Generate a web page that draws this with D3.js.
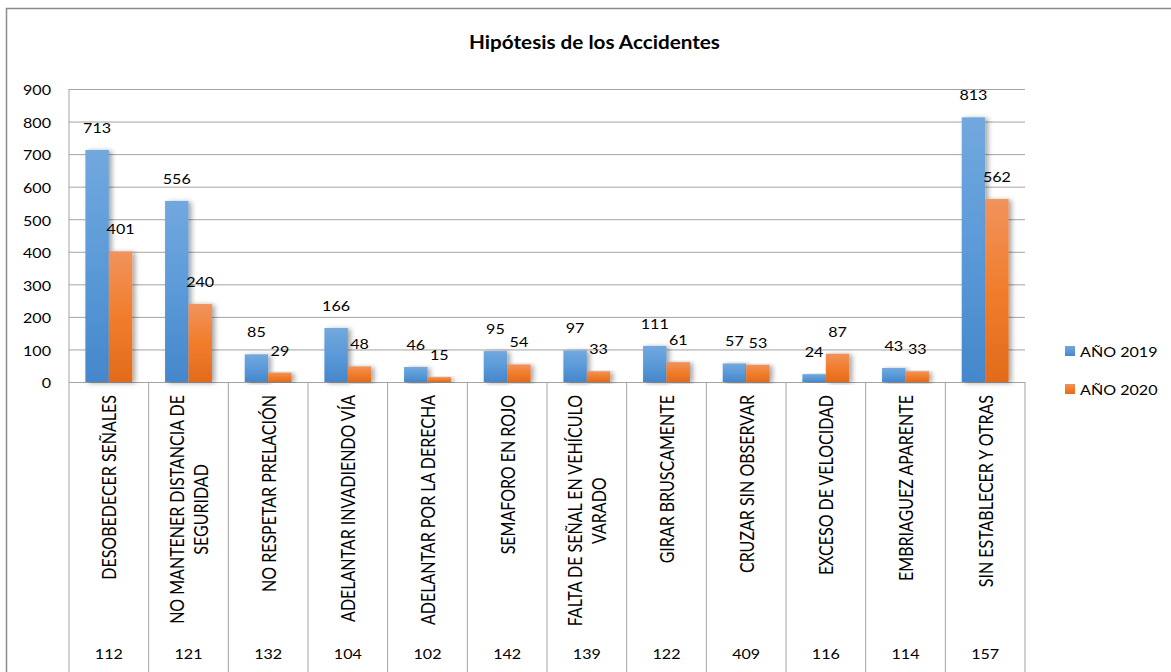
<!DOCTYPE html>
<html>
<head>
<meta charset="utf-8">
<script src="https://cdn.jsdelivr.net/npm/d3@7"></script>
<style>
  body { margin: 0; background: #fff; }
  svg text { font-family: Lato, 'Open Sans', sans-serif; fill: #000; }
</style>
</head>
<body>
<div id="chart"></div>
<script>
// data
const categories = [
  'DESOBEDECER SEÑALES',
  'NO MANTENER DISTANCIA DE\nSEGURIDAD',
  'NO RESPETAR PRELACIÓN',
  'ADELANTAR INVADIENDO VÍA',
  'ADELANTAR POR LA DERECHA',
  'SEMAFORO EN ROJO',
  'FALTA DE SEÑAL EN VEHÍCULO\nVARADO',
  'GIRAR BRUSCAMENTE',
  'CRUZAR SIN OBSERVAR',
  'EXCESO DE VELOCIDAD',
  'EMBRIAGUEZ APARENTE',
  'SIN ESTABLECER Y OTRAS'
]
const series = ['AÑO 2019', 'AÑO 2020']
const values2019 = [713, 556, 85, 166, 46, 95, 97, 111, 57, 24, 43, 813]
const values2020 = [401, 240, 29, 48, 15, 54, 33, 61, 53, 87, 33, 562]
const tableRow = [112, 121, 132, 104, 102, 142, 139, 122, 409, 116, 114, 157]
const yTicks = [0, 100, 200, 300, 400, 500, 600, 700, 800, 900]

const title = 'Hipótesis de los Accidentes'

const width = 1171
const height = 672
const margin = { top: 89, left: 69, right: 146, bottom: 290 }
const plotW = width - margin.left - margin.right
const plotH = height - margin.top - margin.bottom
const SX = 1.15 // the original picture is stretched sideways a bit
const gridColor = '#a3a3a3'

const svg = d3
  .select('#chart')
  .append('svg')
  .attr('width', width)
  .attr('height', height)

// outer chart border (left + top only visible)
svg
  .append('path')
  .attr('d', 'M6.5,' + (height + 5) + 'V8.5H' + (width + 5))
  .attr('fill', 'none')
  .attr('stroke', '#8a8a8a')
  .attr('stroke-width', 1.5)

const defs = svg.append('defs')
const gradStops = {
  'AÑO 2019': ['#72a8de', '#5b9ad8', '#4587cb'],
  'AÑO 2020': ['#f1935d', '#f17d2c', '#e26b1b']
}
series.forEach((s, i) => {
  const g = defs
    .append('linearGradient')
    .attr('id', 'grad' + i)
    .attr('x1', 0)
    .attr('y1', 0)
    .attr('x2', 0)
    .attr('y2', 1)
  gradStops[s].forEach((c, j) => {
    g.append('stop')
      .attr('offset', j / 2)
      .attr('stop-color', c)
  })
})
const shadow = defs
  .append('filter')
  .attr('id', 'shadow')
  .attr('x', '-30%')
  .attr('y', '-10%')
  .attr('width', '170%')
  .attr('height', '120%')
shadow
  .append('feDropShadow')
  .attr('dx', 3)
  .attr('dy', 1)
  .attr('stdDeviation', 2.5)
  .attr('flood-color', '#000')
  .attr('flood-opacity', 0.35)

const chart = svg
  .append('g')
  .attr('transform', 'translate(' + margin.left + ',' + margin.top + ')')

const x0 = d3
  .scaleBand()
  .domain(categories)
  .range([0, plotW])
  .padding(0)

const x1 = d3
  .scaleBand()
  .domain(series)
  .range([0, x0.bandwidth()])
  .paddingInner(0)
  .paddingOuter(0.7)

const y = d3
  .scaleLinear()
  .domain([0, 900])
  .range([plotH, 0])

// gridlines + tick labels
const yAxis = d3
  .axisLeft(y)
  .tickValues(yTicks)
  .tickSize(-plotW)
  .tickPadding(18)
chart
  .append('g')
  .attr('class', 'axis y-axis')
  .call(yAxis)
chart.select('.y-axis .domain').remove()
chart
  .selectAll('.y-axis line')
  .attr('stroke', gridColor)
  .attr('stroke-width', 1)
chart
  .selectAll('.y-axis text')
  .attr('font-size', 14)
  .attr('font-family', 'Lato')
  .attr('fill', '#000')
  .attr('x', -18 / SX)
  .attr('dy', '0.42em')
  .attr('transform', 'scale(' + SX + ',1)')

// data table grid below the axis
chart
  .selectAll('.table-line')
  .data(d3.range(categories.length + 1))
  .enter()
  .append('line')
  .attr('class', 'table-line')
  .attr('x1', i => (i < categories.length ? x0(categories[i]) : plotW))
  .attr('x2', i => (i < categories.length ? x0(categories[i]) : plotW))
  .attr('y1', i => (i === 0 ? 0 : plotH))
  .attr('y2', plotH + margin.bottom + 5)
  .attr('stroke', gridColor)
  .attr('stroke-width', 1)

const rows = categories.map((c, i) => ({
  cat: c,
  values: [
    { key: series[0], value: values2019[i], idx: 0 },
    { key: series[1], value: values2020[i], idx: 1 }
  ]
}))

const groups = chart
  .selectAll('.group')
  .data(rows)
  .enter()
  .append('g')
  .attr('class', 'group')
  .attr('transform', d => 'translate(' + x0(d.cat) + ',0)')

groups
  .selectAll('rect')
  .data(d => d.values)
  .enter()
  .append('rect')
  .attr('x', d => x1(d.key))
  .attr('y', d => y(d.value))
  .attr('width', x1.bandwidth())
  .attr('height', d => plotH - y(d.value))
  .attr('fill', d => 'url(#grad' + d.idx + ')')
  .attr('filter', 'url(#shadow)')

groups
  .selectAll('.value-label')
  .data(d => d.values)
  .enter()
  .append('text')
  .attr('class', 'value-label')
  .attr('text-anchor', 'middle')
  .attr('font-size', 14)
  .attr(
    'transform',
    d =>
      'translate(' +
      (x1(d.key) + x1.bandwidth() / 2) +
      ',' +
      (y(d.value) - 17) +
      ') scale(' +
      SX +
      ',1)'
  )
  .text(d => d.value)

// rotated category labels (glyphs stretched sideways like the source)
const labelTop = plotH + 13
groups.each(function(d) {
  const lines = d.cat.split('\n')
  const g = d3
    .select(this)
    .append('g')
    .attr(
      'transform',
      'translate(' +
        (x0.bandwidth() / 2 + 1.5) +
        ',' +
        labelTop +
        ') rotate(-90) scale(1,' +
        SX +
        ')'
    )
  const texts = g
    .selectAll('text')
    .data(lines)
    .enter()
    .append('text')
    .attr('font-size', 16)
    .attr('text-anchor', 'middle')
    .attr('y', (l, j) => ((j - (lines.length - 1) / 2) * 24) / SX)
    .attr('dy', '0.33em')
    .text(l => l)
  const maxLen = d3.max(texts.nodes(), n => n.getComputedTextLength())
  texts.attr('x', -maxLen / 2)
})

// table values
groups
  .append('text')
  .attr('text-anchor', 'middle')
  .attr('font-size', 14)
  .attr(
    'transform',
    (d, i) =>
      'translate(' + x0.bandwidth() / 2 + ',' + (plotH + 277) + ') scale(' + SX + ',1)'
  )
  .text((d, i) => tableRow[i])

// title
svg
  .append('text')
  .attr('text-anchor', 'middle')
  .attr('font-size', 18)
  .attr('font-weight', 'bold')
  .attr('transform', 'translate(594.5,49) scale(' + SX + ',1)')
  .text(title)

// legend
const legend = svg
  .selectAll('.legend')
  .data(series)
  .enter()
  .append('g')
  .attr('class', 'legend')
  .attr('transform', (d, i) => 'translate(1065,' + (346 + i * 38) + ')')
legend
  .append('rect')
  .attr('width', 10)
  .attr('height', 10)
  .attr('fill', (d, i) => 'url(#grad' + i + ')')
legend
  .append('text')
  .attr('font-size', 14)
  .attr('transform', 'translate(15,10.5) scale(' + SX + ',1)')
  .text(d => d)
</script>
</body>
</html>
